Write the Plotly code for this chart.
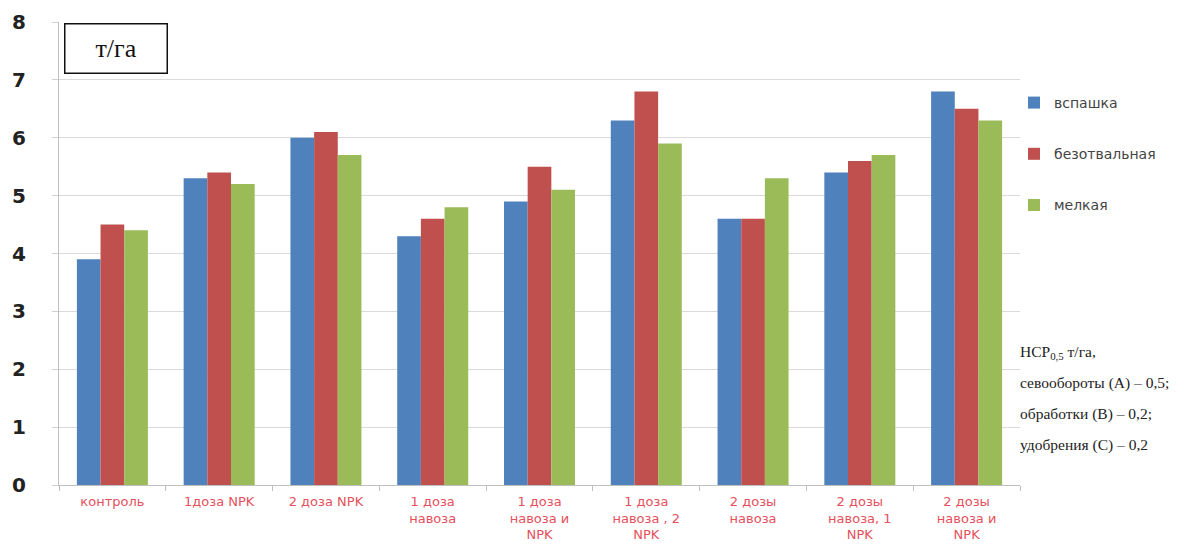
import plotly.graph_objects as go

categories = [
    "контроль",
    "1доза NPK",
    "2 доза NPK",
    "1 доза<br>навоза",
    "1 доза<br>навоза и<br>NPK",
    "1 доза<br>навоза , 2<br>NPK",
    "2 дозы<br>навоза",
    "2 дозы<br>навоза, 1<br>NPK",
    "2 дозы<br>навоза и<br>NPK",
]
vspashka = [3.9, 5.3, 6.0, 4.3, 4.9, 6.3, 4.6, 5.4, 6.8]
bezotvalnaya = [4.5, 5.4, 6.1, 4.6, 5.5, 6.8, 4.6, 5.6, 6.5]
melkaya = [4.4, 5.2, 5.7, 4.8, 5.1, 5.9, 5.3, 5.7, 6.3]
series_names = ["вспашка", "безотвальная", "мелкая"]
colors = ["#4f81bd", "#c0504d", "#9bbb59"]
y_ticks = [0, 1, 2, 3, 4, 5, 6, 7, 8]
note_lines = [
    "НСР<sub>0,5</sub> т/га,",
    "севообороты (А) – 0,5;",
    "обработки (В) – 0,2;",
    "удобрения (С) – 0,2",
]

fig = go.Figure()
for name, vals, col in zip(series_names, [vspashka, bezotvalnaya, melkaya], colors):
    fig.add_trace(go.Bar(
        x=categories, y=vals, name=name, marker_color=col,
        marker_line_width=0, legendgroup=name,
    ))

OFF = 8  # page body margin
W, H = 1195 - OFF, 544 - OFF
# plot area in page pixels: x 59..1020, y 22..485
ml = 59 - OFF
mt = 22 - OFF
mr = W - (1020 - OFF)
mb = H - (485 - OFF)
pw, ph = W - ml - mr, H - mt - mb

def px(x):  # page pixel -> paper
    return (x - OFF - ml) / pw

def py(y):
    return (H - mb - (y - OFF)) / ph

fig.update_layout(
    width=W, height=H,
    margin=dict(l=ml, r=mr, t=mt, b=mb, autoexpand=False),
    paper_bgcolor="white", plot_bgcolor="white",
    barmode="group", bargap=0.335, bargroupgap=0,
    font=dict(family="DejaVu Sans", color="#333"),
    legend=dict(
        x=px(1014), y=py(87), xanchor="left", yanchor="top",
        font=dict(size=14, color="#444", family="DejaVu Sans"),
        traceorder="grouped", tracegroupgap=30,
        bgcolor="rgba(0,0,0,0)", itemwidth=30,
    ),
    xaxis=dict(
        automargin=False,
        showgrid=False, showline=True, linecolor="#bfbfbf", linewidth=1,
        ticks="outside", tickson="boundaries", ticklen=5, tickcolor="#bfbfbf",
        tickfont=dict(size=13, color="#e6505c", family="DejaVu Sans"),
        tickangle=0, ticklabelstandoff=4,
    ),
    yaxis=dict(
        automargin=False,
        range=[0, 8], tickvals=y_ticks, showgrid=True, gridcolor="#dadada",
        showline=True, linecolor="#bfbfbf", linewidth=1,
        ticks="outside", ticklen=6, tickcolor="#d0d0d0",
        tickfont=dict(size=20, color="#222", family="DejaVu Sans", weight="bold"),
        ticklabelstandoff=22, zeroline=False,
    ),
)

# т/га box
fig.add_annotation(
    x=px(64), y=py(23), xref="paper", yref="paper",
    xanchor="left", yanchor="top", showarrow=False,
    text="т/га", font=dict(family="Liberation Serif, Times New Roman", size=26, color="#111"),
    width=99, height=46, bordercolor="#111", borderwidth=1.5, bgcolor="white",
    align="center", valign="middle",
)

# НСР note
note_y = [352, 383, 414, 445]
for line, yy in zip(note_lines, note_y):
    fig.add_annotation(
        x=px(1018), y=py(yy), xref="paper", yref="paper",
        xanchor="left", yanchor="middle", showarrow=False,
        text=line, font=dict(family="Liberation Serif, Times New Roman", size=15.5, color="#222"),
        align="left",
    )

fig.write_html("out.html")
